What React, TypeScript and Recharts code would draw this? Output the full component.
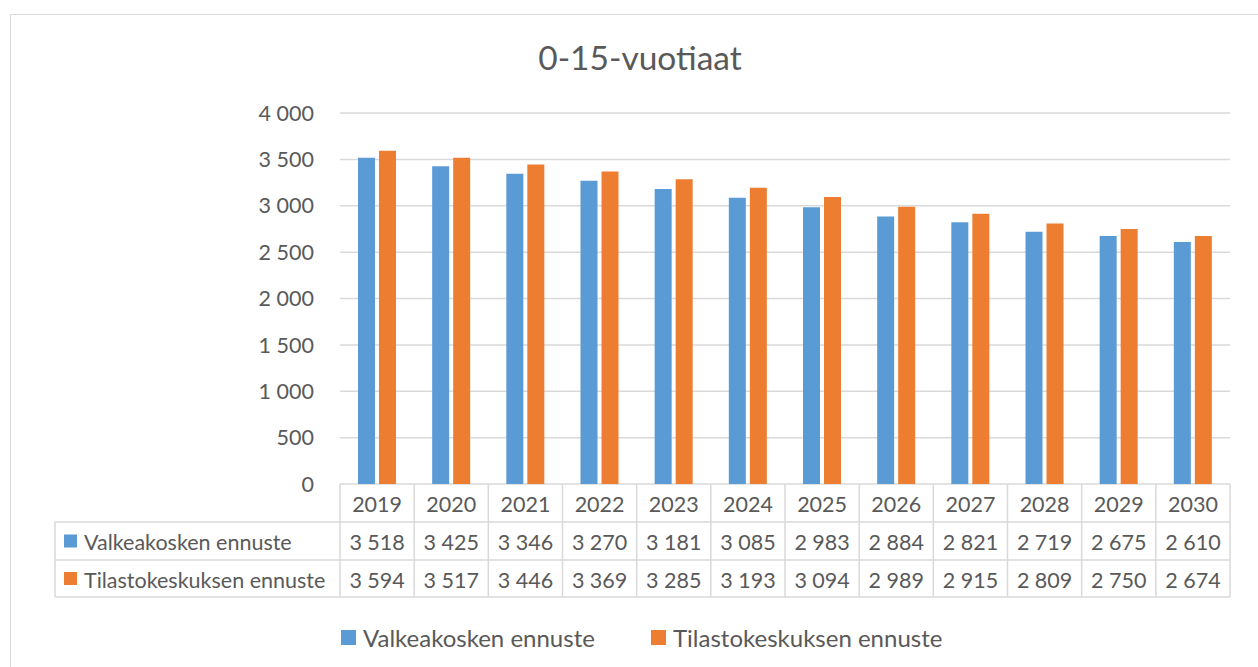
import { BarChart, Bar, XAxis, YAxis, CartesianGrid } from "recharts";

const categories = ["2019", "2020", "2021", "2022", "2023", "2024", "2025", "2026", "2027", "2028", "2029", "2030"];
const valkeakoskiValues = [3518, 3425, 3346, 3270, 3181, 3085, 2983, 2884, 2821, 2719, 2675, 2610];
const tilastoValues = [3594, 3517, 3446, 3369, 3285, 3193, 3094, 2989, 2915, 2809, 2750, 2674];
const seriesNames = ["Valkeakosken ennuste", "Tilastokeskuksen ennuste"];
const yTicks = [0, 500, 1000, 1500, 2000, 2500, 3000, 3500, 4000];
const title = "0-15-vuotiaat";

const BLUE = "#5B9BD5";
const ORANGE = "#ED7D31";
const TEXT = "#595959";
const LINE = "#d9d9d9";
const FONT = "Lato, 'Open Sans', sans-serif";
const TABLE_FS = 21.5;

const PLOT_LEFT = 340;
const PLOT_RIGHT = 1230;
const BAND = (PLOT_RIGHT - PLOT_LEFT) / categories.length;
const TABLE_LEFT = 55;
const ROWS = [484, 522, 560, 597];

const data = categories.map((year, i) => ({
  year,
  valkeakoski: valkeakoskiValues[i],
  tilasto: tilastoValues[i],
}));

const fmt = (v: number) => String(v).replace(/\B(?=(\d{3})+(?!\d))/g, " ");

function TableTick(props: any) {
  const { x, payload } = props;
  const index = props.index ?? payload.index ?? 0;
  const left = x - BAND / 2;
  const right = x + BAND / 2;
  const rows = [payload.value, fmt(valkeakoskiValues[index]), fmt(tilastoValues[index])];
  const colors = [BLUE, ORANGE];
  return (
    <g>
      {index === 0 && (
        <g>
          <line x1={TABLE_LEFT} x2={left} y1={ROWS[1]} y2={ROWS[1]} stroke={LINE} strokeWidth={1.5} />
          <line x1={TABLE_LEFT} x2={left} y1={ROWS[2]} y2={ROWS[2]} stroke={LINE} strokeWidth={1.5} />
          <line x1={TABLE_LEFT} x2={left} y1={ROWS[3]} y2={ROWS[3]} stroke={LINE} strokeWidth={1.5} />
          <line x1={TABLE_LEFT} x2={TABLE_LEFT} y1={ROWS[1]} y2={ROWS[3]} stroke={LINE} strokeWidth={1.5} />
          <line x1={left} x2={left} y1={ROWS[0]} y2={ROWS[3]} stroke={LINE} strokeWidth={1.5} />
          {seriesNames.map((name, r) => (
            <g key={name}>
              <rect x={64} y={(ROWS[r + 1] + ROWS[r + 2]) / 2 - 6.5} width={13} height={13} fill={colors[r]} />
              <text
                x={84}
                y={(ROWS[r + 1] + ROWS[r + 2]) / 2 + 1}
                dominantBaseline="central"
                fontSize={TABLE_FS}
                fontFamily={FONT}
                fill={TEXT}
              >
                {name}
              </text>
            </g>
          ))}
        </g>
      )}
      <line x1={right} x2={right} y1={ROWS[0]} y2={ROWS[3]} stroke={LINE} strokeWidth={1.5} />
      <line x1={left} x2={right} y1={ROWS[1]} y2={ROWS[1]} stroke={LINE} strokeWidth={1.5} />
      <line x1={left} x2={right} y1={ROWS[2]} y2={ROWS[2]} stroke={LINE} strokeWidth={1.5} />
      <line x1={left} x2={right} y1={ROWS[3]} y2={ROWS[3]} stroke={LINE} strokeWidth={1.5} />
      {rows.map((t, r) => (
        <text
          key={r}
          x={x}
          y={(ROWS[r] + ROWS[r + 1]) / 2 + 1}
          textAnchor="middle"
          dominantBaseline="central"
          fontSize={TABLE_FS}
          fontFamily={FONT}
          fill={TEXT}
        >
          {t}
        </text>
      ))}
    </g>
  );
}

export default function App() {
  return (
    <div
      style={{
        position: "absolute",
        left: 0,
        top: 0,
        width: 1258,
        height: 667,
        overflow: "hidden",
        background: "#fff",
        fontFamily: FONT,
      }}
    >
      <div
        style={{
          position: "absolute",
          left: 10,
          top: 14,
          width: 1300,
          height: 700,
          border: `1.5px solid ${LINE}`,
        }}
      />
      <div
        style={{
          position: "absolute",
          left: 0,
          width: 1280,
          top: 37,
          textAlign: "center",
          fontSize: 33.5,
          lineHeight: "40px",
          color: TEXT,
        }}
      >
        {title}
      </div>
      <div style={{ position: "absolute", left: 0, top: 0 }}>
        <BarChart
          width={1258}
          height={667}
          data={data}
          barSize={17}
          barGap={4}
          margin={{ top: 113, right: 1258 - PLOT_RIGHT, left: PLOT_LEFT - 60, bottom: 69 }}
        >
          <CartesianGrid vertical={false} stroke={LINE} strokeWidth={1.5} />
          <XAxis
            dataKey="year"
            height={114}
            interval={0}
            axisLine={false}
            tickLine={false}
            tickSize={0}
            tickMargin={0}
            tick={<TableTick />}
          />
          <YAxis
            width={60}
            domain={[0, 4000]}
            ticks={yTicks}
            axisLine={false}
            tickLine={false}
            tickSize={0}
            tickMargin={26}
            tickFormatter={fmt}
            tick={{ fontSize: 21.5, fill: TEXT, fontFamily: FONT }}
          />
          <Bar dataKey="valkeakoski" name={seriesNames[0]} fill={BLUE} isAnimationActive={false} />
          <Bar dataKey="tilasto" name={seriesNames[1]} fill={ORANGE} isAnimationActive={false} />
        </BarChart>
      </div>
      <div
        style={{
          position: "absolute",
          top: 622,
          left: 0,
          width: 1258,
          height: 30,
          fontSize: 24,
          color: TEXT,
        }}
      >
        {seriesNames.map((name, i) => (
          <div
            key={name}
            style={{
              position: "absolute",
              left: i === 0 ? 341 : 651,
              top: 0,
              height: 30,
              display: "flex",
              alignItems: "center",
              whiteSpace: "nowrap",
            }}
          >
            <span
              style={{
                display: "inline-block",
                width: 15,
                height: 15,
                background: i === 0 ? BLUE : ORANGE,
                marginRight: 7,
              }}
            />
            {name}
          </div>
        ))}
      </div>
    </div>
  );
}
